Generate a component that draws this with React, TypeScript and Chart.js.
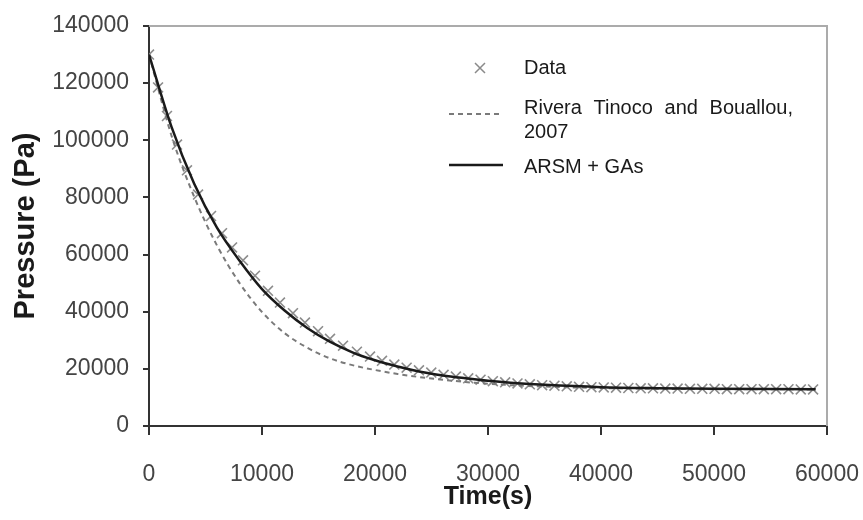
import React, { useEffect, useRef } from "react";
import { Chart, registerables } from "chart.js";

Chart.register(...registerables);

// Measured data (crosses)
const dataTime = [
  0, 800, 1590, 2480, 3360, 4340, 5490, 6460, 7350, 8320, 9380, 10530, 11590, 12740, 13800,
  14960, 16020, 17170, 18400, 19560, 20620, 21710, 22800, 23890, 24980, 26070, 27160, 28250,
  29340, 30430, 31520, 32610, 33700, 34790, 35880, 36970, 38060, 39150, 40240, 41330, 42420,
  43510, 44600, 45690, 46780, 47870, 48960, 50050, 51140, 52230, 53320, 54410, 55500, 56590,
  57680, 58770,
];
const dataPressure = [
  130000, 118500, 108500, 98500, 89500, 81000, 73500, 67500, 62500, 58000, 52600, 47300, 43200,
  39500, 36200, 33200, 30500, 28100, 26000, 24300, 22800, 21500, 20400, 19500, 18700, 17900,
  17300, 16700, 16200, 15700, 15300, 14900, 14600, 14300, 14100, 13900, 13700, 13600, 13500,
  13400, 13300, 13200, 13200, 13100, 13100, 13000, 13000, 13000, 12900, 12900, 12900, 12900,
  12900, 12900, 12800, 12800,
];

// Rivera Tinoco and Bouallou, 2007 (dashed)
const riveraTime = [
  0, 2000, 4000, 6000, 8000, 10000, 12000, 14000, 16000, 18000, 20000, 22000, 24000, 26000,
  28000, 30000, 32000, 35000, 40000, 45000, 50000, 55000, 59000,
];
const riveraPressure = [
  130000, 101500, 80200, 63300, 50100, 39900, 32500, 27400, 23700, 21300, 19600, 18200, 17100,
  16200, 15400, 14800, 14300, 13800, 13300, 13000, 12900, 12850, 12800,
];

// ARSM + GAs (solid)
const arsmTime = [
  0, 2000, 4000, 6000, 8000, 10000, 12000, 14000, 16000, 18000, 20000, 22000, 24000, 26000,
  28000, 30000, 32000, 35000, 40000, 45000, 50000, 55000, 59000,
];
const arsmPressure = [
  130000, 104600, 84800, 69500, 57900, 47900, 40400, 34300, 29500, 25800, 23000, 20800, 19000,
  17700, 16700, 15800, 15100, 14400, 13600, 13250, 13050, 12950, 12900,
];

const xMin = 0;
const xMax = 60000;
const xStep = 10000;
const yMin = 0;
const yMax = 140000;
const yStep = 20000;

const legendLabels = ["Data", "Rivera Tinoco and Bouallou,", "2007", "ARSM + GAs"];
const xTitle = "Time(s)";
const yTitle = "Pressure (Pa)";

const FONT = '"Liberation Sans", Arial, sans-serif';

const framePlugin = {
  id: "frame",
  beforeDatasetsDraw(chart: any) {
    const { ctx, chartArea } = chart;
    ctx.save();
    ctx.strokeStyle = "#ababab";
    ctx.lineWidth = 2;
    ctx.beginPath();
    ctx.moveTo(chartArea.left, chartArea.top);
    ctx.lineTo(chartArea.right, chartArea.top);
    ctx.lineTo(chartArea.right, chartArea.bottom);
    ctx.stroke();
    ctx.restore();
  },
};

const legendPlugin = {
  id: "customLegend",
  afterDraw(chart: any) {
    const { ctx, chartArea } = chart;
    const symX = chartArea.left + 300;
    const symW = 54;
    const textX = chartArea.left + 375;
    const rowData = chartArea.top + 42;
    const rowRivera = chartArea.top + 82;
    const row2007 = chartArea.top + 106;
    const rowArsm = chartArea.top + 141;
    ctx.save();
    ctx.font = `20px ${FONT}`;
    ctx.fillStyle = "#1a1a1a";
    ctx.textBaseline = "middle";
    ctx.textAlign = "left";

    // Data cross
    ctx.strokeStyle = "#8a8a8a";
    ctx.lineWidth = 1.5;
    const cx = symX + 31;
    const r = 5;
    ctx.beginPath();
    ctx.moveTo(cx - r, rowData - r);
    ctx.lineTo(cx + r, rowData + r);
    ctx.moveTo(cx + r, rowData - r);
    ctx.lineTo(cx - r, rowData + r);
    ctx.stroke();
    ctx.fillText(legendLabels[0], textX, rowData);

    // Rivera dashed
    ctx.strokeStyle = "#7a7a7a";
    ctx.lineWidth = 2;
    ctx.setLineDash([5, 4]);
    ctx.beginPath();
    ctx.moveTo(symX, rowRivera + 6);
    ctx.lineTo(symX + symW, rowRivera + 6);
    ctx.stroke();
    ctx.setLineDash([]);
    // justified line
    const words = legendLabels[1].split(" ");
    const totalW = 269;
    const sum = words.reduce((a, w) => a + ctx.measureText(w).width, 0);
    const gap = Math.max(6, (totalW - sum) / (words.length - 1));
    let wx = textX;
    for (const w of words) {
      ctx.fillText(w, wx, rowRivera);
      wx += ctx.measureText(w).width + gap;
    }
    ctx.fillText(legendLabels[2], textX, row2007);

    // ARSM solid
    ctx.strokeStyle = "#1a1a1a";
    ctx.lineWidth = 2.5;
    ctx.beginPath();
    ctx.moveTo(symX, rowArsm - 2);
    ctx.lineTo(symX + symW, rowArsm - 2);
    ctx.stroke();
    ctx.fillText(legendLabels[3], textX, rowArsm);
    ctx.restore();
  },
};

export default function App() {
  const canvasRef = useRef<HTMLCanvasElement | null>(null);

  useEffect(() => {
    const canvas = canvasRef.current;
    if (!canvas) return;
    const chart = new Chart(canvas, {
      type: "scatter",
      data: {
        datasets: [
          {
            label: legendLabels[0],
            data: dataTime.map((t, i) => ({ x: t, y: dataPressure[i] })),
            pointStyle: "crossRot",
            pointRadius: 7,
            pointBorderWidth: 1.6,
            borderColor: "#8c8c8c",
            backgroundColor: "#8c8c8c",
            showLine: false,
            order: 2,
          },
          {
            label: "Rivera Tinoco and Bouallou, 2007",
            data: riveraTime.map((t, i) => ({ x: t, y: riveraPressure[i] })),
            showLine: true,
            pointRadius: 0,
            borderColor: "#7a7a7a",
            borderWidth: 2,
            borderDash: [5, 4],
            cubicInterpolationMode: "monotone",
            order: 1,
          } as any,
          {
            label: legendLabels[3],
            data: arsmTime.map((t, i) => ({ x: t, y: arsmPressure[i] })),
            showLine: true,
            pointRadius: 0,
            borderColor: "#1a1a1a",
            borderWidth: 2.5,
            cubicInterpolationMode: "monotone",
            order: 0,
          } as any,
        ],
      },
      options: {
        responsive: false,
        animation: false,
        devicePixelRatio: 1,
        layout: { padding: { left: 0, right: 36, top: 26, bottom: 0 } },
        plugins: {
          legend: { display: false },
          tooltip: { enabled: false },
        },
        scales: {
          x: {
            type: "linear",
            min: xMin,
            max: xMax,
            afterFit: (scale: any) => {
              scale.height = 94;
              scale.paddingLeft = 0;
              scale.paddingRight = 30;
            },
            ticks: {
              stepSize: xStep,
              padding: 26,
              color: "#444",
              font: { family: FONT, size: 23 },
              callback: (v: any) => String(v),
              maxRotation: 0,
            },
            grid: {
              drawOnChartArea: false,
              drawTicks: true,
              tickLength: 9,
              color: "#333",
              lineWidth: 2,
            },
            border: { color: "#333", width: 2 },
            title: {
              display: true,
              text: xTitle,
              color: "#1a1a1a",
              font: { family: FONT, size: 25, weight: "bold" },
              padding: { top: 0, bottom: 8 },
            },
          },
          y: {
            type: "linear",
            min: yMin,
            max: yMax,
            afterFit: (scale: any) => {
              scale.width = 149;
              scale.paddingTop = 0;
              scale.paddingBottom = 0;
            },
            ticks: {
              stepSize: yStep,
              padding: 14,
              color: "#444",
              font: { family: FONT, size: 23 },
              callback: (v: any) => String(v),
            },
            grid: {
              drawOnChartArea: false,
              drawTicks: true,
              tickLength: 6,
              color: "#333",
              lineWidth: 2,
            },
            border: { color: "#333", width: 2 },
            title: {
              display: true,
              text: yTitle,
              color: "#1a1a1a",
              font: { family: FONT, size: 29, weight: "bold" },
              padding: { top: 9, bottom: 0 },
            },
          },
        },
      },
      plugins: [framePlugin, legendPlugin],
    });
    return () => chart.destroy();
  }, []);

  return (
    <div style={{ position: "fixed", left: 0, top: 0, width: 863, height: 520, background: "#fff" }}>
      <canvas ref={canvasRef} width={863} height={520} style={{ display: "block" }} />
    </div>
  );
}
